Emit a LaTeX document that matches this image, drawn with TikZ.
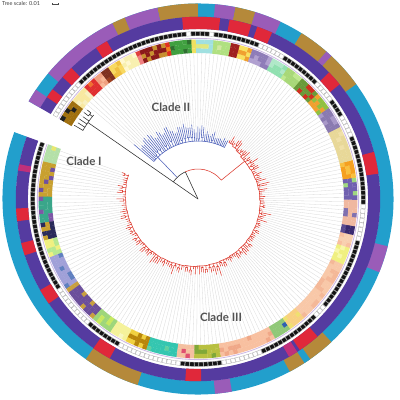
\documentclass[tikz,border=0pt]{standalone}
\usepackage{fontspec}
\setmainfont{Lato}
\newcount\lc
\newcommand\annsec[5]{\fill[#1] (#2:#4) arc[start angle=#2,end angle=#3,radius=#4pt] -- (#3:#5) arc[start angle=#3,end angle=#2,radius=#5pt] -- cycle;}
\definecolor{ocy}{HTML}{229FCC}
\definecolor{obr}{HTML}{B5893A}
\definecolor{olp}{HTML}{9A5CB8}
\definecolor{ind}{HTML}{553BA0}
\definecolor{rdd}{HTML}{E0283A}
\definecolor{mag}{HTML}{C0307A}
\definecolor{lav}{HTML}{CDB8E6}
\definecolor{trd}{HTML}{DC3A2E}
\definecolor{tbl}{HTML}{4F62BA}
\definecolor{blk}{HTML}{2B2B2B}
\definecolor{gl}{HTML}{D9D9D9}
\begin{document}
\begin{tikzpicture}[x=1pt,y=1pt,
  declare function={rbt(\u)=(\u>=399)*(60+floor((\u-399)/6)*1.5)+(\u<399)*(60+floor((399-\u)/10)*0.5858);},
  tr/.style={line width=0.55pt, line cap=round},
  gline/.style={draw=gl, line width=0.3pt},
  lbl/.style={font=\fontsize{11.5}{13}\selectfont\bfseries, text=black!68, inner sep=0pt}]
\useasboundingbox (-198,-201) rectangle (202,199);
\fill[white] (-198,-201) rectangle (202,199);
% outer ring
\annsec{ocy}{160}{510}{182}{195.5}
\foreach \aa/\bb/\cq in {235/252/obr, 275/280/olp, 298/313/obr, 303/305/ocy, 338/346/olp, 396/407/obr, 407/409/olp, 409/418/obr, 425/433/olp, 433/439/obr, 439/445/olp, 450/462/obr, 462/472/olp, 472/476/obr, 476/500/olp, 506/510/olp}
  {\annsec{\cq}{\aa}{\bb}{182}{195.5}}
% second ring
\annsec{ind}{160}{510}{170}{182.2}
\foreach \aa/\bb/\cq in {169/171/mag, 183/187/rdd, 194/198/rdd, 210/215/rdd, 235/241/rdd, 266/271/rdd, 300/303/mag, 304/311/rdd, 368/375/rdd, 399/404/rdd, 426/431/rdd, 433/440/rdd, 443/455/rdd, 480/484/rdd, 494/498/rdd, 503/506/rdd}
  {\annsec{\cq}{\aa}{\bb}{170}{182.2}}
% lavender line
\draw[lav, line width=0.8pt] (160:160.6) arc[start angle=160,end angle=510,radius=160.6pt];
% squares
\global\lc=0
\foreach \nn/\cq in {33/1,10/0,8/1,14/0,9/1,9/0,14/1,3/0,16/1,8/0,15/1,5/0,4/1,5/0,9/1,6/0,10/1,1/0,4/1,1/0,26/1,9/0} {
  \foreach \kk in {1,...,\nn} {
    \global\advance\lc by 1
    \pgfmathsetmacro\angM{160+(\the\lc-0.5)*1.59817}
    \ifnum\cq=1 \def\sqf{black!92}\else\def\sqf{white}\fi
    \filldraw[fill=\sqf, draw=gray!70, line width=0.3pt] ({\angM-0.72}:163.2) -- ({\angM+0.72}:163.2) -- ({\angM+0.72}:167.4) -- ({\angM-0.72}:167.4) -- cycle;
  }}
% inner coloured ring
\pgfmathsetseed{5}
\global\lc=0
\foreach \nn/\cA/\cB in {4/B4E0A8/E8E870, 8/C8A030/7050A0, 6/3AA68A/7E57A6, 4/2A2A5A/C8A030, 4/B8E890/F0F080, 8/A0A0D8/6080C0, 9/6B4E9B/C8A040, 5/9ED67A/C8E860, 4/F5F29A/F8F8C0, 5/B8860B/F0D040, 7/34C6B0/60D0A0, 4/F4C0A0/E05070, 6/B8C040/80A838, 13/F8C0A0/F0A888, 4/90C878/3060B0, 4/F8D080/F0E070, 15/F8C8A8/F4B898, 4/F0F080/F8F8A8, 3/F8D0B0/F8C0A0, 2/3A2A70/5A4A90, 6/F0B8A0/8070B0, 5/7060B0/A0D880, 4/F5A020/F8C040, 8/E8D898/F0E0A8, 5/8A7AB0/A898C8, 4/F0A030/90C040, 5/6A9A3A/D03020, 4/A8D878/C0E890, 4/90E0B0/B0E8C8, 5/8E7CB8/B0A0D0, 3/F8E060/F0A030, 2/A02020/E06030, 4/B0E080/D0E8A0, 4/A0E0E0/E0E880, 1/F0E060/5090D0, 5/40A040/2E7030, 1/E03020/F08020, 6/8B1A1A/C89030, 1/E04040/F08080, 4/F8F0B0/FFF8D0, 3/F0C040/F8D860, 2/803020/A04020, 2/F0A080/F8B898, 3/E03030/F07030, 4/F8E8A0/F8F0C0, 5/A07010/202020} {
  \definecolor{segA}{HTML}{\cA}\definecolor{segB}{HTML}{\cB}
  \foreach \kk in {1,...,\nn} {
    \global\advance\lc by 1
    \pgfmathsetmacro\angA{160+(\the\lc-1)*1.59817-0.05}
    \pgfmathsetmacro\angB{\angA+1.69817}
    \foreach \ra/\rb in {146/150.8,150.6/155.2,155/159.5} {
      \pgfmathtruncatemacro\pk{rnd<0.74}
      \ifnum\pk=1 \def\cP{segA}\else\def\cP{segB}\fi
      \fill[\cP] (\angA:\ra) -- (\angB:\ra) -- (\angB:\rb) -- (\angA:\rb) -- cycle;
    }}}
% tree: clade III (red)
\pgfmathsetseed{11}
\draw[trd,tr] plot[domain=160.8:421.3, samples=500] (\x:{rbt(\x)});
\foreach \pp in {1,...,82} {
  \pgfmathsetmacro\angA{160+(2*\pp-1.5)*1.59817}
  \pgfmathsetmacro\angB{\angA+1.59817}
  \pgfmathsetmacro\angM{\angA+0.799}
  \pgfmathsetmacro\rZ{rbt(\angM)}
  \pgfmathtruncatemacro\mD{rnd<0.45}
  \ifnum\mD=1
    \pgfmathsetmacro\rS{\rZ}
  \else
    \pgfmathsetmacro\rS{\rZ+1.5+2.5*rnd}
    \draw[trd,tr] (\angM:\rZ) -- (\angM:\rS) (\angA:\rS) -- (\angB:\rS);
  \fi
  \pgfmathsetmacro\lenA{\rS+1.5+4*rnd+5*(rnd<0.15)}
  \pgfmathsetmacro\lenB{\rS+1.5+4*rnd+5*(rnd<0.15)}
  \draw[gline] (\angA:\lenA) -- (\angA:146) (\angB:\lenB) -- (\angB:146);
  \draw[trd,tr] (\angA:\rS) -- (\angA:\lenA) (\angB:\rS) -- (\angB:\lenB);
}
% clade II (blue)
\draw[tbl,tr] (422.9:58) arc[start angle=422.9,end angle=499.6,radius=58pt];
\draw[tbl,tr] (134:30) -- (134:58);
\foreach \pp in {83,...,106} {
  \pgfmathsetmacro\angA{160+(2*\pp-1.5)*1.59817}
  \pgfmathsetmacro\angB{\angA+1.59817}
  \pgfmathsetmacro\angM{\angA+0.799}
  \pgfmathsetmacro\ext{(\angA-423)/77*14}
  \pgfmathtruncatemacro\mD{rnd<0.4}
  \ifnum\mD=1
    \pgfmathsetmacro\rS{58}
  \else
    \pgfmathsetmacro\rS{58+2+4*rnd}
    \draw[tbl,tr] (\angM:58) -- (\angM:\rS) (\angA:\rS) -- (\angB:\rS);
  \fi
  \pgfmathsetmacro\lenA{\rS+3+\ext+5*rnd}
  \pgfmathsetmacro\lenB{\rS+3+\ext+5*rnd}
  \draw[gline] (\angA:\lenA) -- (\angA:146) (\angB:\lenB) -- (\angB:146);
  \draw[tbl,tr] (\angA:\rS) -- (\angA:\lenA) (\angB:\rS) -- (\angB:\lenB);
}
\draw[gline] (499.6:84) -- (499.6:146);
\draw[tbl,tr] (499.6:58) -- (499.6:84);
% clade I (black) and root
\draw[blk,tr] (0,0) -- (505.2:134);
\draw[blk,tr] (0,0) -- (115:30) arc[start angle=115,end angle=145.2,radius=30pt];
\draw[trd,tr] (115:30) arc[start angle=115,end angle=39,radius=30pt] -- (39:60);
\draw[blk,tr] (501.21:134) arc[start angle=501.21,end angle=509.2,radius=134pt];
\draw[blk,tr] (502.0:134) -- (502.0:137.5) (501.21:137.5) -- (502.81:137.5)
  (501.21:137.5) -- (501.21:142) (502.81:137.5) -- (502.81:143)
  (504.41:134) -- (504.41:141) (506.0:134) -- (506.0:143)
  (507.6:134) -- (507.6:142) (509.2:134) -- (509.2:144);
\draw[gline] (501.21:142) -- (501.21:146) (502.81:143) -- (502.81:146)
  (504.41:141) -- (504.41:146) (506.0:143) -- (506.0:146);
% labels
\node[lbl] (cI) at (-114,38) {Clade I};
\node[lbl] (cII) at (-27,92) {Clade II};
\node[lbl] (cIII) at (23,-118) {Clade III};
\node[anchor=base west, font=\fontsize{5.5}{6}\selectfont, text=black!75, inner sep=0pt] (ts) at (-196,193.6) {Tree scale: 0.01};
\draw[black!70, line width=0.4pt] (-146,194.1) -- (-146,195.9) (-146,195) -- (-140,195) (-140,194.1) -- (-140,195.9);
\end{tikzpicture}
\end{document}
